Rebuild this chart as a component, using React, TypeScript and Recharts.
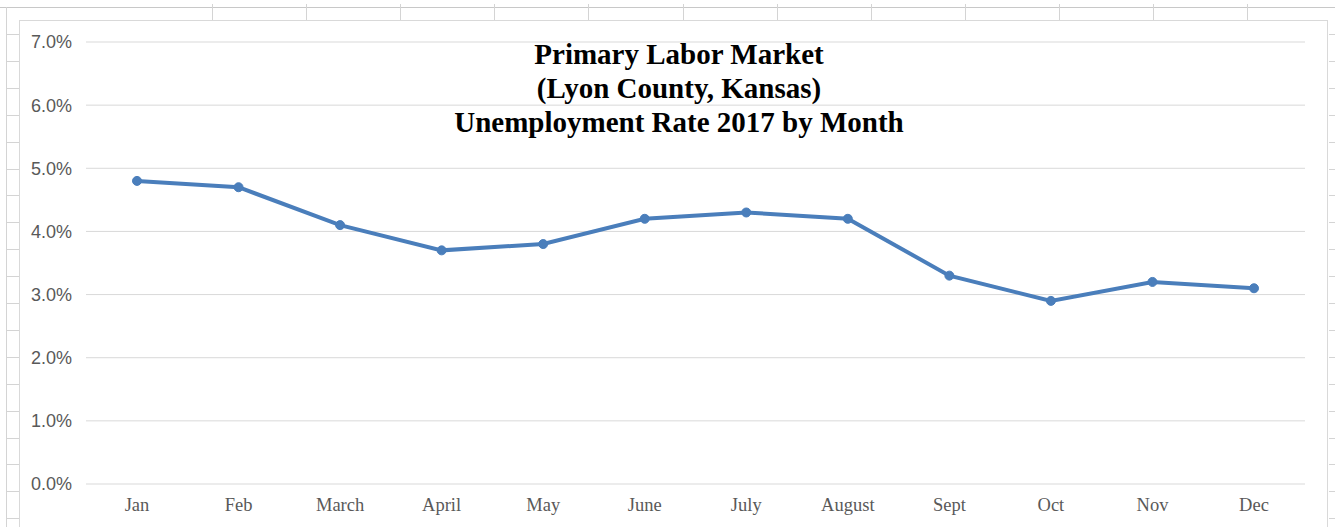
import React from "react";
import { LineChart, Line, XAxis, YAxis, CartesianGrid } from "recharts";

const MONTHS = ["Jan", "Feb", "March", "April", "May", "June", "July", "August", "Sept", "Oct", "Nov", "Dec"];
const RATES = [4.8, 4.7, 4.1, 3.7, 3.8, 4.2, 4.3, 4.2, 3.3, 2.9, 3.2, 3.1];
const Y_TICKS = [0, 1, 2, 3, 4, 5, 6, 7];
const TITLE_LINES = ["Primary Labor Market", "(Lyon County, Kansas)", "Unemployment Rate 2017 by Month"];

const data = MONTHS.map((m, i) => ({ month: m, rate: RATES[i] }));

// spreadsheet cell lines behind the chart
const colLines = Array.from({ length: 12 }, (_, i) => 212 + i * 94.1);
const rowLines = Array.from({ length: 19 }, (_, i) => 34 + i * 26.9);

export default function App() {
  return (
    <div style={{ position: "absolute", left: 0, top: 0, width: 1335, height: 527, overflow: "hidden", background: "#fff" }}>
      <div style={{ position: "absolute", left: 0, top: 7, width: 1335, height: 1, background: "#c8c8c8" }} />
      {colLines.map((x, i) => (
        <div key={"c" + i} style={{ position: "absolute", left: Math.round(x), top: 4, width: 1, height: 16, background: "#d4d4d4" }} />
      ))}
      {rowLines.map((y, i) => (
        <div key={"r" + i} style={{ position: "absolute", left: 6, top: Math.round(y), width: 13, height: 1, background: "#d4d4d4" }} />
      ))}
      {rowLines.map((y, i) => (
        <div key={"rr" + i} style={{ position: "absolute", left: 1329, top: Math.round(y), width: 6, height: 1, background: "#d4d4d4" }} />
      ))}
      <div style={{ position: "absolute", left: 6, top: 7, width: 1, height: 520, background: "#d4d4d4" }} />

      <div style={{ position: "absolute", left: 19, top: 20, width: 1309, height: 520, border: "1px solid #d9d9d9", boxSizing: "border-box", background: "#fff" }}>
        <LineChart width={1307} height={507} data={data} margin={{ top: 21, right: 22, bottom: 14, left: 0 }}>
          <CartesianGrid vertical={false} stroke="#d9d9d9" strokeWidth={1} />
          <XAxis
            dataKey="month"
            height={30}
            axisLine={false}
            tickLine={false}
            padding={{ left: 51, right: 51 }}
            tick={{ fill: "#595959", fontSize: 18.5, fontFamily: "Liberation Serif" }}
            dy={6}
          />
          <YAxis
            width={66}
            domain={[0, 7]}
            ticks={Y_TICKS}
            axisLine={false}
            tickLine={false}
            tickFormatter={(v: number) => `${v.toFixed(1)}%`}
            tick={{ fill: "#595959", fontSize: 18, fontFamily: "Liberation Sans" }}
            dx={-6}
          />
          <Line
            type="linear"
            dataKey="rate"
            stroke="#4A7EBB"
            strokeWidth={4}
            dot={{ r: 4.5, fill: "#4A7EBB", stroke: "#4A7EBB", strokeWidth: 1 }}
            isAnimationActive={false}
          />
        </LineChart>
        <div
          style={{
            position: "absolute",
            left: 359,
            width: 600,
            top: 16,
            textAlign: "center",
            fontFamily: "Liberation Serif",
            fontWeight: "bold",
            fontSize: 29,
            lineHeight: "34px",
            color: "#000",
            whiteSpace: "nowrap",
          }}
        >
          {TITLE_LINES.map((t) => (
            <div key={t}>{t}</div>
          ))}
        </div>
      </div>
    </div>
  );
}
